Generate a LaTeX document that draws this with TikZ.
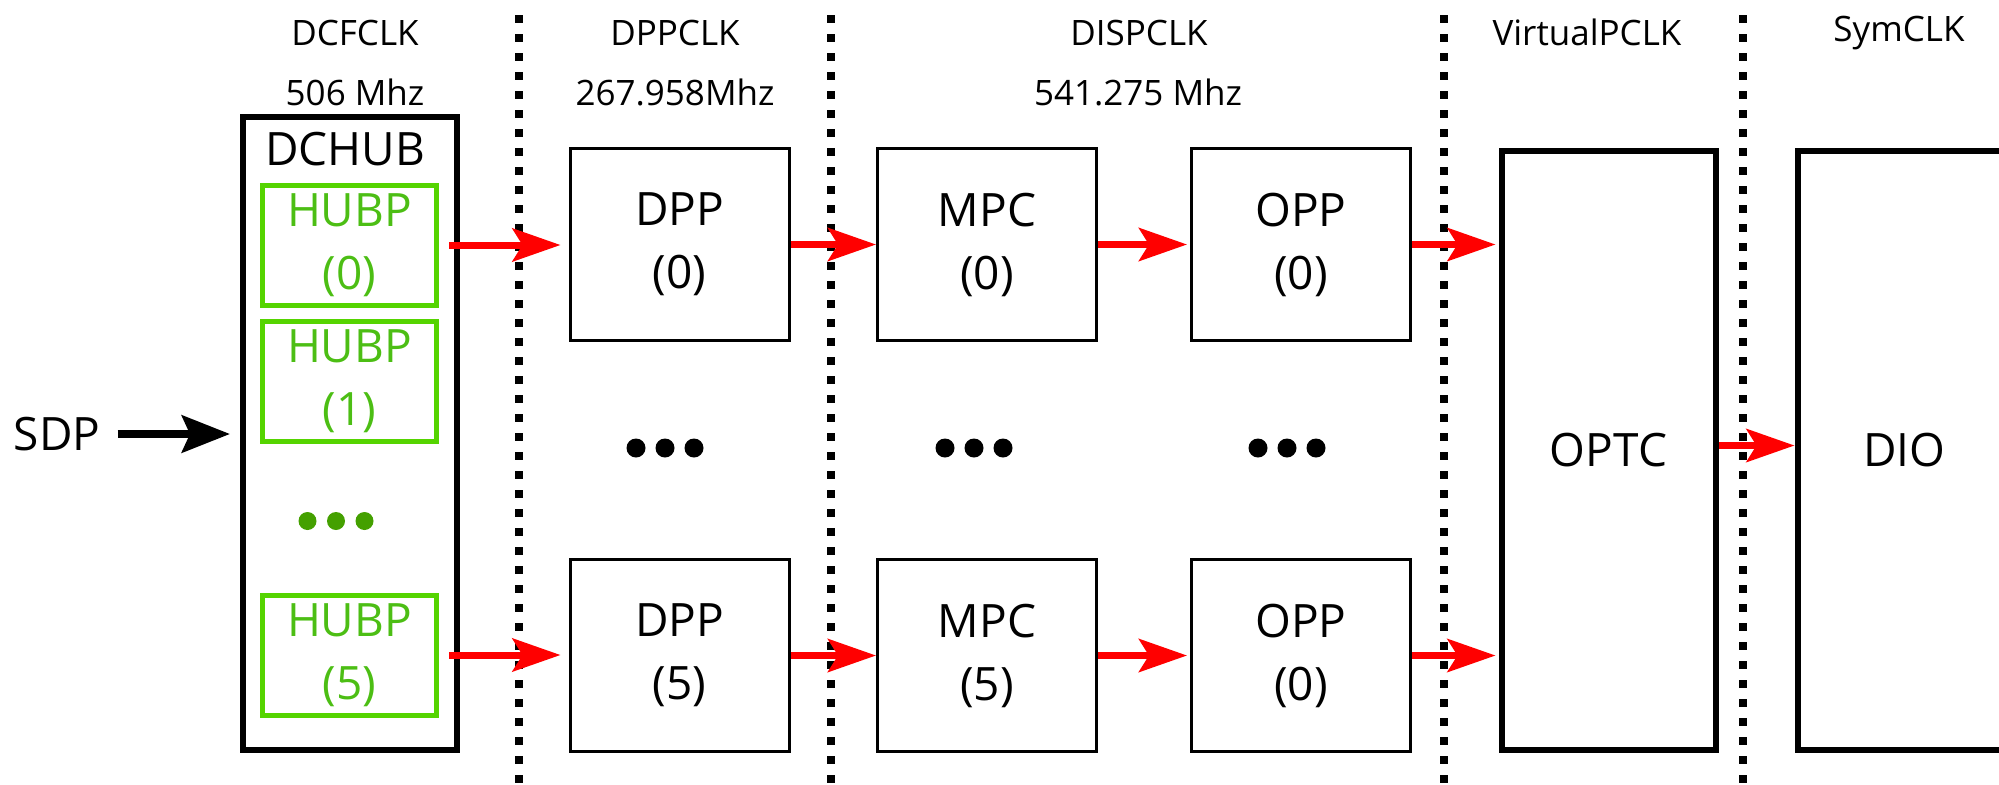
\documentclass[tikz,border=0pt]{standalone}
\usepackage{fontspec}
\setmainfont{Open Sans}
\usetikzlibrary{arrows.meta}
\definecolor{hubgreen}{RGB}{85,212,0}
\definecolor{hubtext}{RGB}{76,190,20}
\definecolor{dotgreen}{RGB}{68,160,0}
\begin{document}
\begin{tikzpicture}[x=0.5pt,y=-0.5pt,
  lab/.style={font=\fontsize{23pt}{31.5pt}\selectfont, align=center},
  hdr/.style={font=\fontsize{17.5pt}{21pt}\selectfont, anchor=base},
  thinbox/.style={draw, line width=1.5pt, inner sep=0pt, lab, minimum width=109.5pt, minimum height=96pt},
  thickbox/.style={draw, line width=3pt, inner sep=0pt, lab},
  hubbox/.style={draw=hubgreen, line width=2.5pt, text=hubtext, inner sep=0pt, lab, minimum width=87pt, minimum height=60pt},
  flow/.style={draw=red, line width=3.5pt, -{Stealth[length=24pt,width=16.5pt,inset=5pt,fill=red]}},
  inflow/.style={draw=black, line width=4pt, -{Stealth[length=24pt,width=18.5pt,inset=4pt]}},
  sep/.style={line width=4.25pt, dash pattern=on 4pt off 5.5pt},
  bdot/.style={circle, fill=black, inner sep=0pt, minimum size=9.5pt},
  gdot/.style={circle, fill=dotgreen, inner sep=0pt, minimum size=9pt}
]
\useasboundingbox (0,0) rectangle (1999,784);

% separators
\draw[sep] (519,15) -- (519,784);
\draw[sep] (831,15) -- (831,784);
\draw[sep] (1444,15) -- (1444,784);
\draw[sep] (1743,15) -- (1743,784);

% headers
\node[hdr] (h1) at (355,45) {DCFCLK};
\node[hdr] (h1f) at (355,105) {506 Mhz};
\node[hdr] (h2) at (675,45) {DPPCLK};
\node[hdr] (h2f) at (675,105) {267.958Mhz};
\node[hdr] (h3) at (1139,45) {DISPCLK};
\node[hdr] (h3f) at (1138,105) {541.275 Mhz};
\node[hdr] (h4) at (1587,45) {VirtualPCLK};
\node[hdr] (h5) at (1899,41) {SymCLK};

% DCHUB
\node[thickbox, minimum width=107pt, minimum height=316.5pt] (dchub) at (350,433) {};
\node[lab] (dchublab) at (345,149) {DCHUB};
\node[hubbox] (hubp0) at (349.5,245) {HUBP\\(0)};
\node[hubbox] (hubp1) at (349.5,381) {HUBP\\(1)};
\node[hubbox] (hubp5) at (349.5,655) {HUBP\\(5)};
\foreach \i [count=\k] in {-1,0,1} \node[gdot] (g\k) at (336+\i*28.5,521) {};

% SDP
\node[lab, inner sep=0pt] (sdp) at (57,434) {SDP};

% columns
\node[thinbox] (dpp0) at (679.5,244.5) {DPP\\(0)};
\node[thinbox] (dpp5) at (679.5,655.5) {DPP\\(5)};
\node[thinbox] (mpc0) at (987,244.5) {MPC\\(0)};
\node[thinbox] (mpc5) at (987,655.5) {MPC\\(5)};
\node[thinbox] (opp0) at (1301,244.5) {OPP\\(0)};
\node[thinbox] (opp5) at (1301,655.5) {OPP\\(0)};
\node[thickbox, minimum width=107pt, minimum height=299.5pt] (optc) at (1608.5,450.5) {OPTC};
\node[thickbox, minimum width=107pt, minimum height=299.5pt] (dio) at (1904.5,450.5) {DIO};

\foreach \i [count=\k] in {-1,0,1} {
  \node[bdot] (da\k) at (665+\i*29,448) {};
  \node[bdot] (db\k) at (974+\i*29,448) {};
  \node[bdot] (dc\k) at (1287+\i*29,448) {};
}

% connectors
\draw[inflow, shorten <=8.5pt, shorten >=5pt] (sdp) -- (sdp -| dchub.west);
\draw[flow, shorten <=5pt, shorten >=4pt] (hubp0.east) -- (hubp0.east -| dpp0.west);
\draw[flow, shorten <=5pt, shorten >=4pt] (hubp5.east) -- (hubp5.east -| dpp5.west);
\draw[flow] (dpp0.east) -- (dpp0.east -| mpc0.west);
\draw[flow] (dpp5.east) -- (dpp5.east -| mpc5.west);
\draw[flow, shorten >=1.5pt] (mpc0.east) -- (mpc0.east -| opp0.west);
\draw[flow, shorten >=1.5pt] (mpc5.east) -- (mpc5.east -| opp5.west);
\draw[flow, shorten >=1.5pt] (opp0.east) -- (opp0.east -| optc.west);
\draw[flow, shorten >=1.5pt] (opp5.east) -- (opp5.east -| optc.west);
\draw[flow] ([yshift=2.5pt]optc.east) -- ([yshift=2.5pt]dio.west);
\end{tikzpicture}
\end{document}
